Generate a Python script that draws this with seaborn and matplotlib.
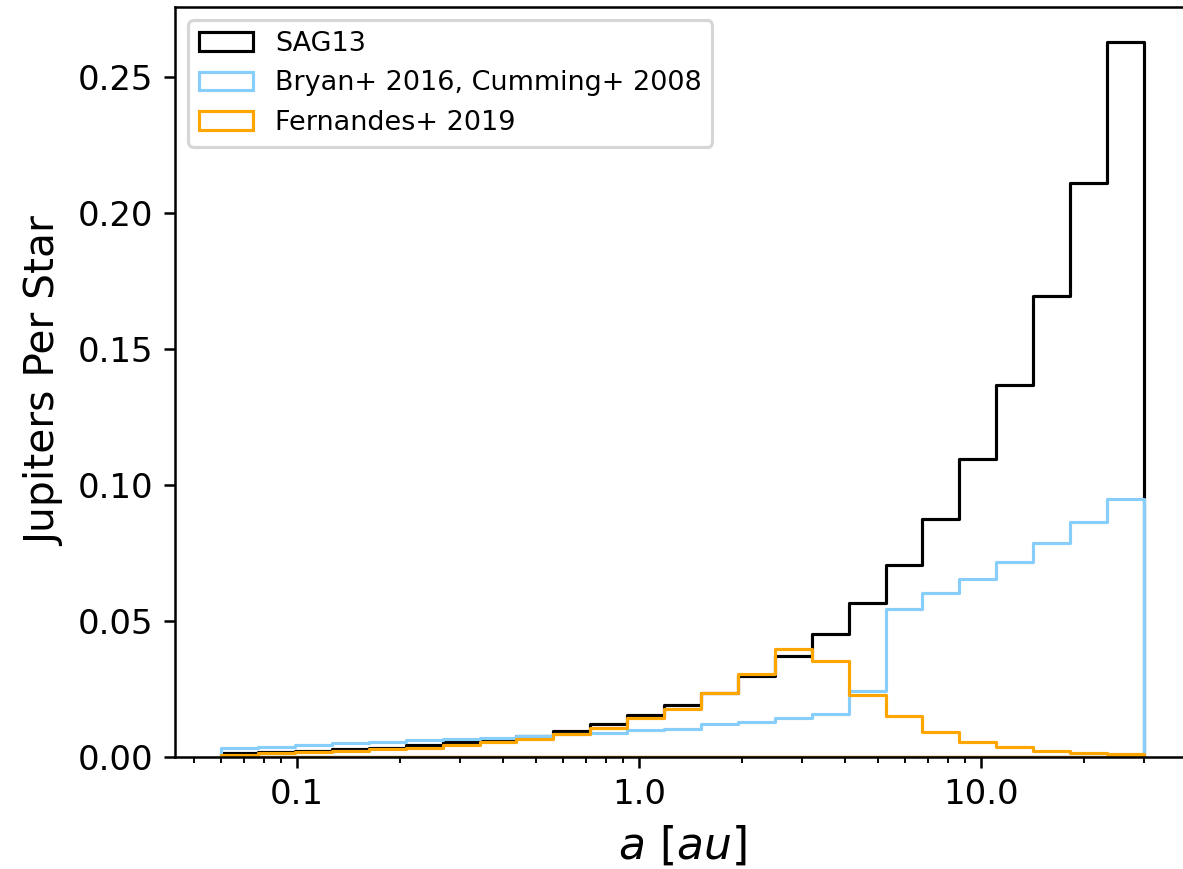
import numpy as np
import pandas as pd
import matplotlib
matplotlib.use("Agg")
import matplotlib.pyplot as plt
from matplotlib.ticker import ScalarFormatter, NullFormatter
import seaborn as sns

# ---- data ----
a_min = 0.06
a_max = 30.0
n_bins = 25

sag13 = [0.0012, 0.0017, 0.0021, 0.0027, 0.0033, 0.0042, 0.0052, 0.0064, 0.0077,
         0.0095, 0.0118, 0.0151, 0.0189, 0.0235, 0.0296, 0.0369, 0.0452, 0.0565,
         0.0705, 0.0874, 0.1095, 0.1366, 0.1694, 0.2112, 0.2628]
bryan = [0.0032, 0.0035, 0.0042, 0.0048, 0.0054, 0.0059, 0.0064, 0.0068, 0.0074,
         0.0081, 0.0088, 0.0096, 0.0103, 0.0118, 0.0128, 0.0141, 0.0157, 0.0240,
         0.0543, 0.0600, 0.0655, 0.0714, 0.0784, 0.0864, 0.0947]
fernandes = [0.0005, 0.0014, 0.0016, 0.0022, 0.0027, 0.0033, 0.0043, 0.0052, 0.0064,
             0.0084, 0.0104, 0.0140, 0.0176, 0.0233, 0.0302, 0.0395, 0.0352, 0.0228,
             0.0149, 0.0090, 0.0055, 0.0036, 0.0022, 0.0012, 0.0008]

labels = ["SAG13", "Bryan+ 2016, Cumming+ 2008", "Fernandes+ 2019"]
colors = ["black", "lightskyblue", "orange"]
series = [sag13, bryan, fernandes]

edges = np.logspace(np.log10(a_min), np.log10(a_max), n_bins + 1)
centers = np.sqrt(edges[:-1] * edges[1:])
log_edges = [float(e) for e in np.log10(edges)]

DPI = 226
fig = plt.figure(figsize=(1183 / DPI, 869 / DPI), dpi=DPI)
W, H = 1183, 869
ax_left, ax_right, ax_top, ax_bottom = 175, 1190, 6.7, 756.5
ax = fig.add_axes([ax_left / W, (H - ax_bottom) / H,
                   (ax_right - ax_left) / W, (ax_bottom - ax_top) / H])

for vals, lab, col in zip(series, labels, colors):
    df = pd.DataFrame({"a": centers, "w": vals})
    sns.histplot(data=df, x="a", weights="w", bins=log_edges, log_scale=True,
                 element="step", fill=True, color=col, alpha=1.0,
                 facecolor="none", edgecolor=col,
                 linewidth=1.0, label=lab, ax=ax, stat="count")

for coll in ax.collections:
    coll.sticky_edges.x.clear()
ax.relim()
ax.autoscale_view()
ax.margins(x=0.05)

ax.set_xscale("log")
ax.xaxis.set_major_formatter(ScalarFormatter())
ax.xaxis.set_minor_formatter(NullFormatter())
ax.set_xlabel(r"$a\ [au]$", fontsize=14)
ax.set_ylabel("Jupiters Per Star", fontsize=13)
ax.tick_params(axis="both", which="major", labelsize=10.8)
ax.legend(loc="upper left", fontsize=8.6)

fig.savefig("out.png", dpi=DPI)
